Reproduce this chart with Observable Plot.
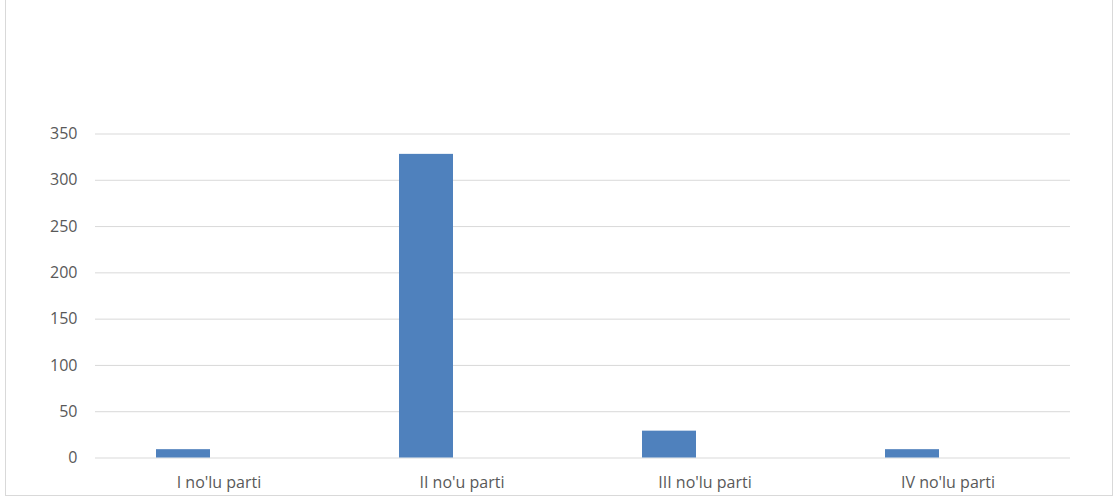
<!DOCTYPE html>
<html>
<head>
<meta charset="utf-8">
<script src="https://cdn.jsdelivr.net/npm/d3@7"></script>
<script src="https://cdn.jsdelivr.net/npm/@observablehq/plot@0.6"></script>
<style>
  html, body { margin: 0; padding: 0; background: #ffffff; }
  #wrap { position: relative; width: 1117px; height: 499px; overflow: hidden; }
  #frame {
    position: absolute; left: 5px; top: -2px; width: 1108px; height: 498px;
    box-sizing: border-box; border: 1px solid #d9d9d9; pointer-events: none;
  }
</style>
</head>
<body>
<div id="wrap"><div id="frame"></div></div>
<script>
// Party categories and their counts
const parties = ["I no'lu parti", "II no'u parti", "III no'lu parti", "IV no'lu parti"];
const counts = [9, 328, 29, 9];
const yTicks = [0, 50, 100, 150, 200, 250, 300, 350];

const data = parties.map((p, i) => ({ party: p, count: counts[i] }));

const chart = Plot.plot({
  width: 1117,
  height: 499,
  marginLeft: 95,
  marginRight: 47,
  marginTop: 133.5,
  marginBottom: 41.5,
  style: { fontFamily: "'Open Sans', sans-serif", fontSize: "16px", color: "#595959", background: "transparent" },
  x: { domain: parties, padding: 0, label: null },
  y: { domain: [0, 350], label: null },
  marks: [
    Plot.gridY(yTicks, { stroke: "#d9d9d9", strokeOpacity: 1, strokeWidth: 1 }),
    Plot.axisY(yTicks, { tickSize: 0, tickPadding: 18, label: null }),
    Plot.axisX({ tickSize: 0, tickPadding: 19, label: null }),
    Plot.barY(data, { x: "party", y: "count", fill: "#4f81bd", insetLeft: 59, insetRight: 130 })
  ]
});

document.getElementById("wrap").prepend(chart);
</script>
</body>
</html>
